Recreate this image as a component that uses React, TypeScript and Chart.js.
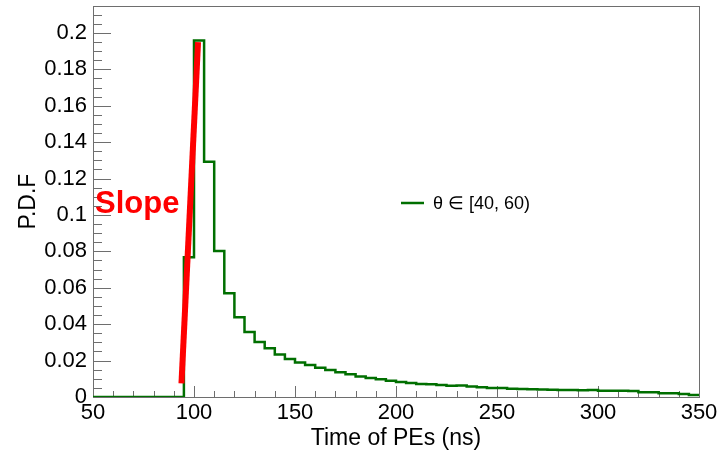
import React, { useEffect, useRef } from "react";
import { Chart, registerables } from "chart.js";

Chart.register(...registerables);

// Histogram: bins of 5 ns from 50 to 350 ns
const binStart = 50;
const binWidth = 5;
const pdfValues = [
  0, 0, 0, 0, 0, 0, 0, 0, 0, // 50-95
  0.0768, 0.1958, 0.1293, 0.0802, 0.057, 0.0438, 0.0357, 0.0302, 0.0268, 0.0234, // 95-145
  0.0209, 0.0189, 0.0176, 0.0161, 0.0148, 0.0136, 0.0125, 0.0113, 0.0104, 0.0097, // 145-195
  0.0089, 0.0083, 0.0077, 0.0072, 0.007, 0.0066, 0.0062, 0.0063, 0.0057, 0.0053, // 195-245
  0.005, 0.0049, 0.0046, 0.0044, 0.0042, 0.0041, 0.004, 0.0038, 0.0038, 0.0037, // 245-295
  0.0039, 0.0035, 0.0035, 0.0034, 0.0033, 0.0026, 0.0026, 0.002, 0.002, 0.0016, // 295-345
  0.0011, // 345-350
];
const seriesLabel = "θ ∈ [40, 60)";

// Red "slope" line endpoints (x in ns, y in PDF)
const slopeX = [93.8, 102];
const slopeY = [0.0075, 0.195];
const slopeLabel = "Slope";

const xTicks = [50, 100, 150, 200, 250, 300, 350];
const yTicks = [0, 0.02, 0.04, 0.06, 0.08, 0.1, 0.12, 0.14, 0.16, 0.18, 0.2];
const xMin = 50, xMax = 350, yMin = 0, yMax = 0.2148;
const xMinorStep = 10, yMinorStep = 0.005;

const GREEN = "#006f00";
const FONT = "'Liberation Sans', Arial, Helvetica, sans-serif";

export default function App() {
  const ref = useRef<HTMLCanvasElement | null>(null);
  useEffect(() => {
    document.body.style.margin = "0";
    const canvas = ref.current!;
    const histPts: { x: number; y: number }[] = pdfValues.map((v, i) => ({ x: binStart + i * binWidth, y: v }));
    histPts.push({ x: binStart + pdfValues.length * binWidth, y: pdfValues[pdfValues.length - 1] });
    const slopePts = slopeX.map((x, i) => ({ x, y: slopeY[i] }));

    const framePlugin = {
      id: "rootFrame",
      beforeDatasetsDraw(chart: any) {
        const { ctx, chartArea: a, scales } = chart;
        const xs = scales.x, ys = scales.y;
        ctx.save();
        ctx.strokeStyle = "#6e6e6e";
        ctx.lineWidth = 1;
        ctx.strokeRect(Math.round(a.left) + 0.5, Math.round(a.top) + 0.5, Math.round(a.right - a.left), Math.round(a.bottom - a.top));
        // x ticks
        const nMinX = Math.round((xMax - xMin) / xMinorStep);
        for (let i = 0; i <= nMinX; i++) {
          const v = xMin + i * xMinorStep;
          const major = xTicks.includes(v);
          const px = Math.round(xs.getPixelForValue(v)) + 0.5;
          const len = major ? 11 : 6;
          ctx.beginPath();
          ctx.moveTo(px, a.bottom);
          ctx.lineTo(px, a.bottom - len);
          ctx.stroke();
        }
        // y ticks
        const nMinY = Math.floor((yMax - yMin) / yMinorStep + 1e-6);
        for (let i = 0; i <= nMinY; i++) {
          const v = yMin + i * yMinorStep;
          const major = i % 4 === 0;
          const py = Math.round(ys.getPixelForValue(v)) + 0.5;
          const len = major ? 18 : 9;
          ctx.beginPath();
          ctx.moveTo(a.left, py);
          ctx.lineTo(a.left + len, py);
          ctx.stroke();
        }
        ctx.restore();
      },
      afterDatasetsDraw(chart: any) {
        const { ctx, chartArea: a, scales } = chart;
        const xs = scales.x, ys = scales.y;
        ctx.save();
        // Slope annotation
        ctx.fillStyle = "#ff0000";
        ctx.font = `bold 31px ${FONT}`;
        ctx.textAlign = "left";
        ctx.textBaseline = "alphabetic";
        ctx.fillText(slopeLabel, xs.getPixelForValue(51), ys.getPixelForValue(0.101));
        // Legend
        const lx = a.left + 308;
        const ly = 203;
        ctx.strokeStyle = GREEN;
        ctx.lineWidth = 2.5;
        ctx.beginPath();
        ctx.moveTo(lx, ly);
        ctx.lineTo(lx + 23, ly);
        ctx.stroke();
        ctx.fillStyle = "#000";
        ctx.font = `18px ${FONT}`;
        ctx.textBaseline = "middle";
        ctx.fillText(seriesLabel, lx + 32, ly + 1);
        ctx.restore();
      },
    };

    const chart = new Chart(canvas, {
      type: "line",
      data: {
        datasets: [
          {
            label: slopeLabel,
            data: slopePts,
            borderColor: "#ff0000",
            borderWidth: 6,
            pointRadius: 0,
            borderCapStyle: "butt",
            order: 0,
          },
          {
            label: seriesLabel,
            data: histPts,
            borderColor: GREEN,
            borderWidth: 2.5,
            pointRadius: 0,
            stepped: true,
            fill: false,
            order: 1,
          },
        ],
      },
      options: {
        responsive: false,
        animation: false,
        devicePixelRatio: 1,
        layout: { padding: { left: 0, right: 27, top: 6, bottom: 0 } },
        plugins: { legend: { display: false }, tooltip: { enabled: false } },
        scales: {
          x: {
            type: "linear",
            min: xMin,
            max: xMax,
            grid: { display: false, drawTicks: false },
            border: { display: false },
            afterBuildTicks: (s: any) => { s.ticks = xTicks.map((v) => ({ value: v })); },
            afterFit: (s: any) => { s.height = 55; s.paddingLeft = 0; s.paddingRight = 0; },
            ticks: {
              padding: 3,
              color: "#000",
              font: { family: FONT, size: 22 },
              maxRotation: 0,
              callback: (v: any) => String(v),
            },
            title: {
              display: true,
              text: "Time of PEs (ns)",
              color: "#000",
              font: { family: FONT, size: 23 },
              padding: { top: 0, bottom: 0 },
            },
          },
          y: {
            type: "linear",
            min: yMin,
            max: yMax,
            grid: { display: false, drawTicks: false },
            border: { display: false },
            afterBuildTicks: (s: any) => { s.ticks = yTicks.map((v) => ({ value: v })); },
            afterFit: (s: any) => { s.width = 93; s.paddingTop = 0; s.paddingBottom = 0; },
            ticks: {
              padding: 6,
              color: "#000",
              font: { family: FONT, size: 22 },
              callback: (v: any) => String(Number(Number(v).toFixed(3))),
            },
            title: {
              display: true,
              text: "P.D.F",
              color: "#000",
              font: { family: FONT, size: 23 },
              padding: { top: 15, bottom: 0 },
            },
          },
        },
      },
      plugins: [framePlugin],
    });
    return () => chart.destroy();
  }, []);
  return <canvas ref={ref} width={726} height={452} style={{ display: "block" }} />;
}
